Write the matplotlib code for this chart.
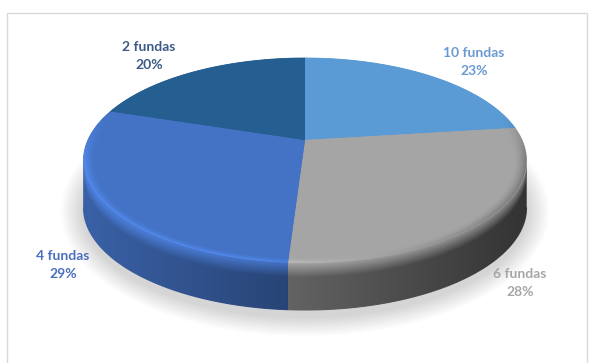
import numpy as np
import matplotlib.pyplot as plt
from matplotlib.collections import LineCollection
from matplotlib.patches import Polygon, Ellipse, Rectangle

# data
labels = ['10 fundas', '6 fundas', '4 fundas', '2 fundas']
shares = [23, 28, 29, 20]
top_colors = ['#5B9BD5', '#A5A5A5', '#4472C4', '#255E91']
label_colors = ['#6A9AD2', '#A6A6A6', '#4A6FC0', '#3B5B86']

# layout of the "3D" pie (pixel space)
cx, cy = 305.0, 160.5      # centre of the projected top ellipse
ra, rb = 221.5, 102.5      # semi axes of the top ellipse
depth = 47.0               # thickness of the pie
tilt = 0.2                 # perspective shift of the pie centre


def project(phi):
    # circle in the pie plane -> perspective ellipse (Klein boost)
    c, s = np.cos(phi), np.sin(phi)
    u = c * np.sqrt(1 - tilt ** 2) / (1 + tilt * s)
    v = (s + tilt) / (1 + tilt * s)
    return cx + ra * u, cy - rb * v


def to_rgb(h):
    h = h.lstrip('#')
    return np.array([int(h[i:i + 2], 16) for i in (0, 2, 4)]) / 255.0


fig = plt.figure(figsize=(5.9, 3.63), dpi=100)
ax = fig.add_axes([0, 0, 1, 1])
ax.set_xlim(0, 590)
ax.set_ylim(363, 0)
ax.axis('off')

# chart frame
ax.add_patch(Rectangle((6.5, 12.5), 580, 360, fill=False, edgecolor='#D9D9D9', linewidth=1.0))

# soft shadow under the pie
for k in range(14):
    ax.add_patch(Ellipse((cx, cy + depth + 4), 2 * (ra + 2 + k * 1.6), 2 * (rb + 4 + k * 1.4),
                         facecolor='black', edgecolor='none', alpha=0.012, zorder=1))

fracs = np.array(shares, dtype=float) / sum(shares)
starts = np.pi / 2 - 2 * np.pi * np.concatenate([[0], np.cumsum(fracs)[:-1]])
ends = starts - 2 * np.pi * fracs

# silhouette: side is visible where sin(phi) < -tilt
vis_lo = -np.pi + np.arcsin(tilt)
vis_hi = -np.arcsin(tilt)

# pixel grid for the shaded images
gx = np.arange(0, 590) + 0.5
gy = np.arange(0, 363) + 0.5
GX, GY = np.meshgrid(gx, gy)
U = np.clip((GX - cx) / ra, -1, 1)
V = (GY - cy) / rb
ytop = cy + rb * np.sqrt(1 - U ** 2)
T = np.clip((GY - ytop) / depth, 0, 1)
RHO = np.sqrt(((GX - cx) / ra) ** 2 + V ** 2)

# side faces
for a0, a1, col in zip(starts, ends, top_colors):
    base = to_rgb(col)
    for k in (-1, 0, 1):
        lo = max(a1 + 2 * np.pi * k, vis_lo)
        hi = min(a0 + 2 * np.pi * k, vis_hi)
        if hi <= lo:
            continue
        phis = np.linspace(hi, lo, 200)
        xs, ys = project(phis)
        pts = list(zip(xs, ys)) + list(zip(xs[::-1], ys[::-1] + depth))
        shade = base[None, None, :] * (0.58 - 0.27 * U[..., None])
        light = np.clip(base[None, None, :] * (1.12 - 0.12 * U[..., None]), 0, 1)
        w = (np.clip(1 - T / 0.3, 0, 1) * 0.75)[..., None]
        img = np.clip(shade * (1 - w) + light * w, 0, 1)
        patch = Polygon(pts, closed=True, facecolor=base * 0.5, edgecolor='none', zorder=2)
        ax.add_patch(patch)
        im = ax.imshow(img, extent=(0, 590, 363, 0), origin='upper', interpolation='bilinear',
                       zorder=2.1, aspect='auto')
        im.set_clip_path(patch)
        # smooth the lower outline
        seg = np.stack([np.column_stack([xs[:-1], ys[:-1] + depth]),
                        np.column_stack([xs[1:], ys[1:] + depth])], axis=1)
        um = ((xs[:-1] + xs[1:]) / 2 - cx) / ra
        lc = [np.clip(base * (0.58 - 0.27 * q), 0, 1) for q in um]
        ax.add_collection(LineCollection(seg, colors=lc, linewidths=0.8, zorder=2.2))

# top faces with a bevel along the rim
centre = (cx, cy - rb * tilt)
for a0, a1, col in zip(starts, ends, top_colors):
    base = to_rgb(col)
    phis = np.linspace(a0, a1, 200)
    xs, ys = project(phis)
    pts = [centre] + list(zip(xs, ys))
    patch = Polygon(pts, closed=True, facecolor=col, edgecolor=col, linewidth=0.6, zorder=3)
    ax.add_patch(patch)
    bw = np.clip(1 - (1 - RHO) / 0.055, 0, 1) ** 1.5
    front = np.clip((GY - cy + 45) / 45, 0, 1)
    wgt = (bw * front * 0.8)[..., None]
    target = np.clip(base[None, None, :] * (1.15 - 0.5 * np.maximum(U, -0.25))[..., None], 0, 1)
    img = np.clip(base[None, None, :] * (1 - wgt) + target * wgt, 0, 1)
    im = ax.imshow(img, extent=(0, 590, 363, 0), origin='upper', interpolation='bilinear',
                   zorder=3.1, aspect='auto')
    im.set_clip_path(patch)

# data labels
label_pos = [(474, 62), (520, 283), (63, 265), (149, 56)]
for name, val, lc, (lx, ly) in zip(labels, shares, label_colors, label_pos):
    ax.text(lx, ly, f'{name}\n{val}%', ha='center', va='center', color=lc,
            fontsize=10, fontweight='bold', family='Lato', linespacing=1.55, zorder=6)

ax.set_xlim(0, 590)
ax.set_ylim(363, 0)
fig.savefig('out.png', dpi=100)
